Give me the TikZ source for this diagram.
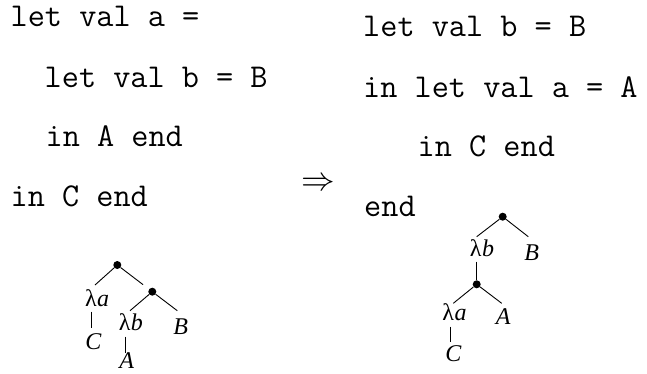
\documentclass[tikz,border=0pt]{standalone}
\usepackage{fontspec}
\usepackage{graphicx}
\setmainfont{Liberation Serif}
\begin{document}
\begin{tikzpicture}[x=1pt,y=-1pt,
  code/.style={anchor=base west,inner sep=0pt,font=\ttfamily\fontsize{33.3}{33.3}\selectfont},
  lab/.style={anchor=base,inner sep=0pt,font=\fontsize{24}{24}\selectfont},
  var/.style={anchor=base west,inner sep=0pt,font=\itshape\fontsize{24}{24}\selectfont},
  dot/.style={circle,fill=black,inner sep=0pt,minimum size=8pt},
  edge/.style={line width=0.9pt}]
\useasboundingbox (0,0) rectangle (647,373);
% left program
\node[code] (l1) at (10.5,26.7) {let val a =};
\node[code] (l2) at (44.5,87.3) {let val b = B};
\node[code] (l3) at (45.5,146.7) {in A end};
\node[code] (l4) at (10.5,206) {in C end};
% right program
\node[code] (r1t) at (363,36.7) {let val b = B};
\node[code] (r2t) at (363,97.3) {in let val a = A};
\node[code] (r3t) at (417.5,156.7) {in C end};
\node[code] (r4t) at (364,216.7) {end};
% arrow
\node[anchor=center,inner sep=0pt,font=\fontsize{24.88}{25}\selectfont] (arr) at (318.5,184) {\scalebox{1.35}{$\Rightarrow$}};
% tree 1
\node[dot] (ta) at (117.3,265) {};
\node[dot] (tb) at (152.3,291.7) {};
\node[lab] (lamA1) at (91,306) {λ};
\node[var] (vA1) at (lamA1.base east) {a};
\node[lab] (C1) at (93.3,349.3) {\itshape C};
\node[lab] (lamB1) at (124.7,330.7) {λ};
\node[var] (vB1) at (lamB1.base east) {b};
\node[lab] (A1) at (126.7,368.5) {\itshape A};
\node[lab] (B1) at (180.7,334.3) {\itshape B};
\coordinate (e1) at (95,285);
\coordinate (e2) at (130,310.7);
\coordinate (e3) at (177.3,310.7);
\draw[edge] (ta) -- (e1);
\draw[edge,shorten >=7.5pt] (ta) -- (tb);
\draw[edge] (tb) -- (e2);
\draw[edge] (tb) -- (e3);
\draw[edge] (lamA1.base) ++(0,5.7) -- ++(0,16.6);
\draw[edge] (lamB1.base) ++(1,6) -- ++(0,16.6);
% tree 2
\node[dot] (tc) at (502.7,216.7) {};
\node[dot] (td) at (476.7,284.3) {};
\node[lab] (lamB2) at (475.8,256) {λ};
\node[var] (vB2) at (lamB2.base east) {b};
\node[lab] (B2) at (531.7,260) {\itshape B};
\node[lab] (lamA2) at (448.3,320) {λ};
\node[var] (vA2) at (lamA2.base east) {a};
\node[lab] (A2) at (503.3,324) {\itshape A};
\node[lab] (C2) at (453.3,361.7) {\itshape C};
\coordinate (f1) at (476.7,236.7);
\coordinate (f2) at (528.3,236.7);
\coordinate (f3) at (453.3,303.3);
\coordinate (f4) at (501.7,303.3);
\draw[edge] (tc) -- (f1);
\draw[edge] (tc) -- (f2);
\draw[edge] (lamB2.base) ++(0.9,5.7) -- (td.north);
\draw[edge] (td) -- (f3);
\draw[edge] (td) -- (f4);
\draw[edge] (lamA2.base) ++(1.7,6.7) -- ++(0,15);
\end{tikzpicture}
\end{document}
